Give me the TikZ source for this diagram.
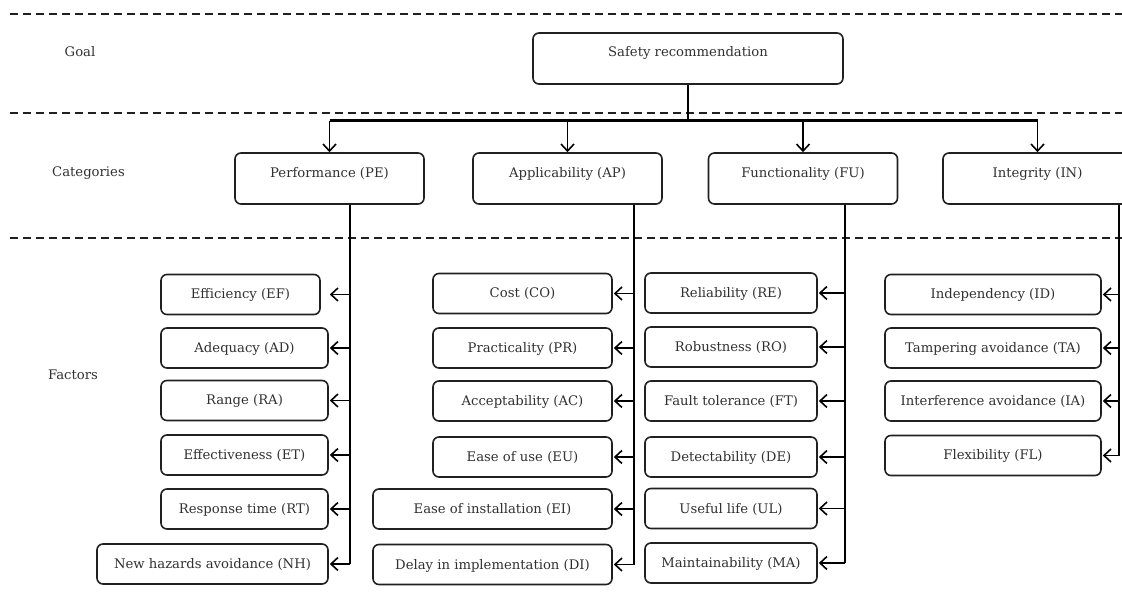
\documentclass[tikz,border=0pt]{standalone}
\usepackage{fontspec}
\setmainfont{DejaVu Serif}
\usetikzlibrary{arrows.meta}
\definecolor{textgray}{HTML}{303030}
\definecolor{linegray}{HTML}{202020}
\begin{document}
\begin{tikzpicture}[x=1pt,y=-1pt,
  txt/.style={font=\fontsize{13.2}{15}\selectfont, text=textgray},
  box/.style={draw=linegray, line width=1.6pt, rounded corners=6pt, inner sep=0pt, txt, text height=9.5pt},
  fbox/.style={box, minimum height=40pt, text depth=0.5pt},
  cbox/.style={box, minimum height=51pt, minimum width=189pt, text depth=11.5pt},
  goalbox/.style={box, minimum height=51pt, minimum width=310pt, text depth=13.5pt},
  heavy/.style={line width=2.6pt, draw=black},
  arr/.style={line width=1.6pt, draw=black, -{Straight Barb[length=7pt,width=13pt,line width=1.6pt]}},
  sep/.style={line width=1.5pt, draw=linegray, dash pattern=on 8pt off 5pt}
]
\useasboundingbox (0,0) rectangle (1122,601);
% separators
\draw[sep] (10,14) -- (1122,14);
\draw[sep] (10,113) -- (1122,113);
\draw[sep] (10,238) -- (1122,238);
% level labels
\node[txt] (lgoal) at (80,52) {Goal};
\node[txt] (lcat) at (88.5,173) {Categories};
\node[txt] (lfac) at (73,375) {Factors};
% goal
\node[goalbox] (goal) at (688,58.5) {Safety recommendation};
% categories
\node[cbox] (PE) at (329.5,178.5) {Performance (PE)};
\node[cbox] (AP) at (567.5,178.5) {Applicability (AP)};
\node[cbox] (FU) at (803,178.5) {Functionality (FU)};
\node[cbox] (IN) at (1037.5,178.5) {Integrity (IN)};
% factors PE
\node[fbox, minimum width=159pt] (EF) at (240.5,294.5) {Efficiency (EF)};
\node[fbox, minimum width=167pt] (AD) at (244.5,348) {Adequacy (AD)};
\node[fbox, minimum width=167pt] (RA) at (244.5,400.5) {Range (RA)};
\node[fbox, minimum width=167pt] (ET) at (244.5,455) {Effectiveness (ET)};
\node[fbox, minimum width=167pt] (RT) at (244.5,509) {Response time (RT)};
\node[fbox, minimum width=231pt] (NH) at (212.5,564) {New hazards avoidance (NH)};
% factors AP
\node[fbox, minimum width=179pt] (CO) at (522.5,293.5) {Cost (CO)};
\node[fbox, minimum width=179pt] (PR) at (522.5,348) {Practicality (PR)};
\node[fbox, minimum width=179pt] (AC) at (522.5,401) {Acceptability (AC)};
\node[fbox, minimum width=179pt] (EU) at (522.5,457) {Ease of use (EU)};
\node[fbox, minimum width=239pt] (EI) at (492.5,509) {Ease of installation (EI)};
\node[fbox, minimum width=239pt] (DI) at (492.5,564.5) {Delay in implementation (DI)};
% factors FU
\node[fbox, minimum width=172pt] (RE) at (731,293) {Reliability (RE)};
\node[fbox, minimum width=172pt] (RO) at (731,347) {Robustness (RO)};
\node[fbox, minimum width=172pt] (FT) at (731,401) {Fault tolerance (FT)};
\node[fbox, minimum width=172pt] (DE) at (731,457) {Detectability (DE)};
\node[fbox, minimum width=172pt] (UL) at (731,508.5) {Useful life (UL)};
\node[fbox, minimum width=172pt] (MA) at (731,563) {Maintainability (MA)};
% factors IN
\node[fbox, minimum width=216pt] (ID) at (993,294.5) {Independency (ID)};
\node[fbox, minimum width=216pt] (TA) at (993,348) {Tampering avoidance (TA)};
\node[fbox, minimum width=216pt] (IA) at (993,401) {Interference avoidance (IA)};
\node[fbox, minimum width=216pt] (FL) at (993,455.5) {Flexibility (FL)};
% goal to categories
\draw[heavy] (goal.south) -- ++(0,36) coordinate (bus);
\draw[heavy] (PE.north |- bus) -- (IN.north |- bus);
\foreach \c in {PE,AP,FU,IN} \draw[arr] (\c.north |- bus) -- (\c.north);
% stems
\coordinate (PEs) at ([xshift=20.5pt]PE.south);
\coordinate (APs) at ([xshift=66.5pt]AP.south);
\coordinate (FUs) at ([xshift=42pt]FU.south);
\coordinate (INs) at ([xshift=81.5pt]IN.south);
\draw[heavy] (PEs) -- (PEs |- NH.east);
\draw[line width=1.6pt] (APs) -- (APs |- DI.east);
\draw[heavy] (FUs) -- (FUs |- MA.east);
\draw[heavy] (INs) -- (INs |- FL.east);
\draw[arr, shorten >=9pt] (PEs |- EF.east) -- (EF.east);
\foreach \f in {AD,RA,ET,RT,NH} \draw[arr, shorten >=1pt] (PEs |- \f.east) -- (\f.east);
\foreach \f in {CO,PR,AC,EU,EI,DI} \draw[arr, shorten >=1pt] (APs |- \f.east) -- (\f.east);
\foreach \f in {RE,RO,FT,DE,UL,MA} \draw[arr, shorten >=1pt] (FUs |- \f.east) -- (\f.east);
\foreach \f in {ID,TA,IA,FL} \draw[arr, shorten >=1pt] (INs |- \f.east) -- (\f.east);
\end{tikzpicture}
\end{document}
